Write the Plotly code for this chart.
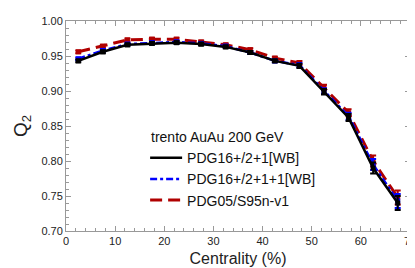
import plotly.graph_objects as go

centrality = [2.5, 7.5, 12.5, 17.5, 22.5, 27.5, 32.5, 37.5, 42.5, 47.5, 52.5, 57.5, 62.5, 67.5]
q2_pdg16 = [0.943, 0.956, 0.966, 0.968, 0.969, 0.967, 0.963, 0.955, 0.943, 0.936, 0.899, 0.862, 0.790, 0.740]
q2_pdg16_1 = [0.946, 0.958, 0.967, 0.969, 0.970, 0.968, 0.964, 0.955, 0.943, 0.937, 0.900, 0.864, 0.795, 0.743]
q2_pdg05 = [0.956, 0.964, 0.973, 0.974, 0.974, 0.970, 0.966, 0.959, 0.947, 0.940, 0.905, 0.869, 0.800, 0.748]
q2_err = [0.002, 0.002, 0.002, 0.002, 0.002, 0.002, 0.002, 0.002, 0.002, 0.003, 0.004, 0.005, 0.008, 0.010]

series = [
    ("PDG05/S95n-v1", q2_pdg05, "#b00000", "12px,6px", 3, 3),
    ("PDG16+/2+1+1[WB]", q2_pdg16_1, "#0000ff", "7px,3px,3px,3px", 2.5, 2),
    ("PDG16+/2+1[WB]", q2_pdg16, "#000000", "solid", 2.5, 1),
]

fig = go.Figure()
for name, vals, col, dash, w, rank in series:
    fig.add_trace(go.Scatter(
        x=centrality, y=vals, name=name, mode="lines+markers",
        line=dict(color=col, dash=dash, width=w),
        marker=dict(symbol="square", size=5, color=col),
        error_y=dict(type="data", array=q2_err, color=col, thickness=2, width=3),
        showlegend=False,
    ))
    # legend-only entry showing just the line style
    fig.add_trace(go.Scatter(
        x=[None], y=[None], name=name, mode="lines",
        line=dict(color=col, dash=dash, width=w),
        legendrank=rank, showlegend=True,
    ))

font_family = "Liberation Sans, Arial"
axis_common = dict(
    showgrid=False, zeroline=False, showline=True, linecolor="#999999", linewidth=1,
    mirror="ticks", ticks="inside", ticklen=5, tickcolor="#999999",
    tickfont=dict(family=font_family, size=11, color="#222222"),
)
fig.update_xaxes(range=[0, 70], dtick=10, tickformat="d",
                 minor=dict(ticks="inside", dtick=2, ticklen=3, tickcolor="#999999"),
                 title=dict(text="Centrality (%)", font=dict(family=font_family, size=16, color="#222222"), standoff=6),
                 **axis_common)
fig.update_yaxes(range=[0.70, 1.00], dtick=0.05, tickformat=".2f",
                 minor=dict(ticks="inside", dtick=0.01, ticklen=3, tickcolor="#999999"),
                 title=dict(text="Q<sub>2</sub>", font=dict(family=font_family, size=19, color="#222222"), standoff=8),
                 **axis_common)

fig.update_layout(
    width=415, height=268,
    margin=dict(l=58, r=8, t=7, b=45),
    plot_bgcolor="white", paper_bgcolor="white",
    legend=dict(x=0.23, y=0.51, xanchor="left", yanchor="top",
                bgcolor="rgba(0,0,0,0)", itemwidth=32,
                title=dict(text="\u00a0trento AuAu 200 GeV", font=dict(family=font_family, size=14, color="#111111")),
                font=dict(family=font_family, size=14, color="#111111")),
)

fig.write_html("out.html")
